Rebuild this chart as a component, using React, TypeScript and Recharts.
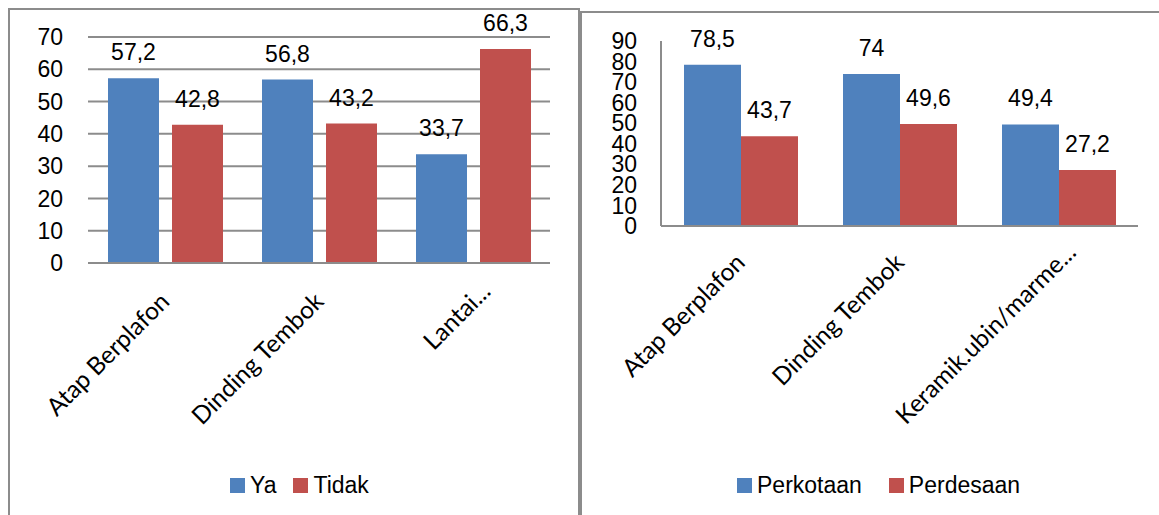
import { BarChart, Bar, XAxis, YAxis, CartesianGrid, LabelList, Legend } from "recharts";

// left chart: Ya / Tidak
const leftCategories = ["Atap Berplafon", "Dinding Tembok", "Lantai..."];
const leftSeries = ["Ya", "Tidak"];
const yaValues = [57.2, 56.8, 33.7];
const tidakValues = [42.8, 43.2, 66.3];
const leftTicks = [0, 10, 20, 30, 40, 50, 60, 70];

// right chart: Perkotaan / Perdesaan
const rightCategories = ["Atap Berplafon", "Dinding Tembok", "Keramik.ubin/marme..."];
const rightSeries = ["Perkotaan", "Perdesaan"];
const perkotaanValues = [78.5, 74, 49.4];
const perdesaanValues = [43.7, 49.6, 27.2];
const rightTicks = [0, 10, 20, 30, 40, 50, 60, 70, 80, 90];

const BLUE = "#4F81BD";
const RED = "#C0504D";
const GRAY = "#8c8c8c";
const NUM_FONT = "'Liberation Sans', Arial, sans-serif";

const leftData = leftCategories.map((name, i) => ({
  name,
  ya: yaValues[i],
  tidak: tidakValues[i],
}));

const rightData = rightCategories.map((name, i) => ({
  name,
  kota: perkotaanValues[i],
  desa: perdesaanValues[i],
}));

const comma = (v: any) => String(v).replace(".", ",");

// truncated labels sit a little further up-right, as in the original
// eslint-disable-next-line @typescript-eslint/no-explicit-any
function SlantTick(props: any) {
  const { x, y, payload } = props;
  const cut = String(payload.value).endsWith("...");
  const ax = x + 6 + (cut ? 13 : 0);
  const ay = y + (cut ? -10 : 0);
  return (
    <text
      x={ax}
      y={ay}
      transform={`rotate(-45, ${ax}, ${ay})`}
      textAnchor="end"
      fontFamily="Lato, 'Open Sans', sans-serif"
      fontSize={24.5}
      fill="#000"
    >
      {payload.value}
    </text>
  );
}

// eslint-disable-next-line @typescript-eslint/no-explicit-any
function SquareLegend({ payload, gap, order }: any) {
  const items = [...(payload || [])].sort(
    (a: any, b: any) => order.indexOf(a.value) - order.indexOf(b.value)
  );
  return (
    <div
      style={{
        display: "flex",
        alignItems: "center",
        height: 30,
        fontFamily: NUM_FONT,
        fontSize: 23,
        color: "#000",
      }}
    >
      {items.map((p: any, i: number) => (
        <div key={i} style={{ display: "flex", alignItems: "center", marginRight: gap }}>
          <span
            style={{ display: "inline-block", width: 15, height: 15, background: p.color, marginRight: 5 }}
          />
          <span>{p.value}</span>
        </div>
      ))}
    </div>
  );
}

const tickStyle = { fontSize: 23, fill: "#000", fontFamily: NUM_FONT };
const labelProps = { position: "top" as const, offset: 18, fontSize: 23, fill: "#000", fontFamily: NUM_FONT };

export default function App() {
  return (
    <div
      style={{
        position: "absolute",
        left: 0,
        top: 0,
        width: 1159,
        height: 515,
        overflow: "hidden",
        background: "#fff",
      }}
    >
      {/* frames */}
      <div
        style={{
          position: "absolute",
          left: 8,
          top: 8,
          width: 572,
          height: 600,
          border: `2px solid ${GRAY}`,
          boxSizing: "border-box",
        }}
      />
      <div
        style={{
          position: "absolute",
          left: 580,
          top: 11,
          width: 700,
          height: 600,
          border: `2.5px solid ${GRAY}`,
          boxSizing: "border-box",
        }}
      />

      <div style={{ position: "absolute", left: 0, top: 0 }}>
        <BarChart
          width={580}
          height={515}
          data={leftData}
          margin={{ top: 37, right: 30, left: 0, bottom: 52 }}
          barSize={51}
          barGap={13}
        >
          <CartesianGrid vertical={false} stroke={GRAY} strokeWidth={2} />
          <XAxis
            dataKey="name"
            height={200}
            interval={0}
            tickLine={false}
            tickSize={0}
            tickMargin={40}
            axisLine={{ stroke: GRAY, strokeWidth: 2 }}
            tick={<SlantTick />}
          />
          <YAxis
            width={88}
            domain={[0, 70]}
            ticks={leftTicks}
            interval={0}
            axisLine={false}
            tickLine={false}
            tickSize={0}
            tickMargin={25}
            tick={tickStyle}
          />
          <Legend
            layout="horizontal"
            verticalAlign="middle"
            align="center"
            wrapperStyle={{ top: 470, left: 230, width: 320, height: 30 }}
            content={<SquareLegend gap={17} order={leftSeries} />}
          />
          <Bar dataKey="ya" name={leftSeries[0]} fill={BLUE} isAnimationActive={false}>
            <LabelList dataKey="ya" formatter={comma} {...labelProps} />
          </Bar>
          <Bar dataKey="tidak" name={leftSeries[1]} fill={RED} isAnimationActive={false}>
            <LabelList dataKey="tidak" formatter={comma} {...labelProps} />
          </Bar>
        </BarChart>
      </div>

      <div style={{ position: "absolute", left: 580, top: 0 }}>
        <BarChart
          width={579}
          height={515}
          data={rightData}
          margin={{ top: 41, right: 21, left: 0, bottom: 49 }}
          barSize={57}
          barGap={0}
        >
          <XAxis
            dataKey="name"
            height={240}
            interval={0}
            tickLine={false}
            tickSize={0}
            tickMargin={38}
            axisLine={{ stroke: GRAY, strokeWidth: 2 }}
            tick={<SlantTick />}
          />
          <YAxis
            width={81}
            domain={[0, 90]}
            ticks={rightTicks}
            interval={0}
            axisLine={{ stroke: GRAY, strokeWidth: 2 }}
            tickLine={false}
            tickSize={0}
            tickMargin={24}
            tick={tickStyle}
          />
          <Legend
            layout="horizontal"
            verticalAlign="middle"
            align="center"
            wrapperStyle={{ top: 470, left: 157, width: 360, height: 30 }}
            content={<SquareLegend gap={27} order={rightSeries} />}
          />
          <Bar dataKey="kota" name={rightSeries[0]} fill={BLUE} isAnimationActive={false}>
            <LabelList dataKey="kota" formatter={comma} {...labelProps} />
          </Bar>
          <Bar dataKey="desa" name={rightSeries[1]} fill={RED} isAnimationActive={false}>
            <LabelList dataKey="desa" formatter={comma} {...labelProps} />
          </Bar>
        </BarChart>
      </div>
    </div>
  );
}
